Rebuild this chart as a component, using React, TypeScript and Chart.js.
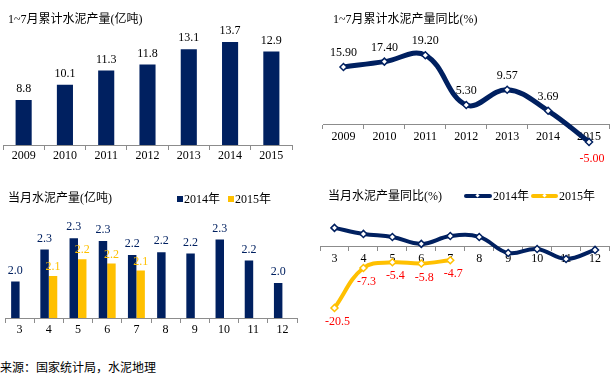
import React, { useEffect, useRef } from "react";
import { Chart, registerables } from "chart.js";
Chart.register(...registerables);

// ---------- data ----------
const yearLabels = ["2009", "2010", "2011", "2012", "2013", "2014", "2015"];
const cumOutput = [8.8, 10.1, 11.3, 11.8, 13.1, 13.7, 12.9];
const cumYoY = [15.9, 17.4, 19.2, 5.3, 9.57, 3.69, -5.0];

const monthLabels = ["3", "4", "5", "6", "7", "8", "9", "10", "11", "12"];
const monthly2014 = [2.03, 2.26, 2.34, 2.32, 2.22, 2.24, 2.23, 2.33, 2.18, 2.02];
const monthly2015 = [null, 2.07, 2.19, 2.16, 2.11, null, null, null, null, null];
const yoy2014 = [6.0, 4.0, 3.0, 0.7, 3.3, 3.0, -2.3, -1.0, -4.3, -1.3];
const yoy2015 = [-20.5, -7.3, -5.4, -5.8, -4.7, null, null, null, null, null];

const seriesNames = ["2014年", "2015年"];
const titles = [
  "1~7月累计水泥产量(亿吨)",
  "1~7月累计水泥产量同比(%)",
  "当月水泥产量(亿吨)",
  "当月水泥产量同比(%)",
];
const sourceText = "来源：国家统计局，水泥地理";

// ---------- styles ----------
const NAVY = "#002060";
const YELLOW = "#FFC000";
const RED = "#FF0000";
const AXIS = "#8c8c8c";
const SERIF = '"Liberation Serif", "Times New Roman", serif';
const MIXED = '"Liberation Serif", "Noto Sans CJK SC", serif';

type Spec = {
  color: (v: number) => string;
  dy: (v: number) => number;
  dx: (v: number) => number;
  digits: number;
} | null;

function labelPlugin(specs: Spec[]) {
  return {
    id: "valueLabels",
    afterDatasetsDraw(chart: any) {
      const ctx = chart.ctx;
      ctx.save();
      ctx.font = `12px ${SERIF}`;
      ctx.textAlign = "center";
      ctx.textBaseline = "middle";
      chart.data.datasets.forEach((ds: any, i: number) => {
        const spec = specs[i];
        if (!spec) return;
        const meta = chart.getDatasetMeta(i);
        meta.data.forEach((el: any, j: number) => {
          const v = ds.data[j];
          if (v == null) return;
          ctx.fillStyle = spec.color(v);
          ctx.fillText(v.toFixed(spec.digits), el.x + spec.dx(v), el.y + spec.dy(v));
        });
      });
      ctx.restore();
    },
  };
}

const xAxis = (yVal: number, pad: number) => ({
  position: { y: yVal },
  offset: true,
  grid: {
    offset: true,
    drawOnChartArea: false,
    drawTicks: true,
    tickLength: 4,
    color: AXIS,
    lineWidth: 1,
  },
  border: { display: true, color: AXIS, width: 1 },
  ticks: {
    color: "#000",
    padding: pad,
    font: { family: SERIF, size: 12 },
    maxRotation: 0,
    autoSkip: false,
  },
});

const baseOptions = (padding: any) => ({
  responsive: false,
  animation: false,
  devicePixelRatio: 1,
  layout: { padding },
  plugins: {
    legend: { display: false },
    title: { display: false },
    tooltip: { enabled: false },
  },
});

function makeCumBar(): any {
  return {
    type: "bar",
    data: {
      labels: yearLabels,
      datasets: [
        {
          data: cumOutput,
          backgroundColor: NAVY,
          barPercentage: 0.39,
          categoryPercentage: 1,
        },
      ],
    },
    options: {
      ...baseOptions({ left: 3, right: 8, top: 35, bottom: 25 }),
      scales: {
        x: xAxis(5, 0),
        y: { display: false, min: 5, max: 14.3 },
      },
    },
    plugins: [
      labelPlugin([{ color: () => "#000", dy: () => -11, dx: () => 0, digits: 1 }]),
    ],
  };
}

function makeCumLine(): any {
  return {
    type: "line",
    data: {
      labels: yearLabels,
      datasets: [
        {
          data: cumYoY,
          borderColor: NAVY,
          borderWidth: 5,
          tension: 0.4,
          pointStyle: "rectRot",
          pointRadius: 3.5,
          pointBackgroundColor: "#fff",
          pointBorderColor: NAVY,
          pointBorderWidth: 1.5,
        },
      ],
    },
    options: {
      ...baseOptions({ left: 18, right: 3, top: 34.4, bottom: 10.15 }),
      scales: {
        x: xAxis(0, 2),
        y: { display: false, min: -10, max: 25 },
      },
    },
    plugins: [
      labelPlugin([
        {
          color: (v) => (v < 0 ? RED : "#000"),
          dy: (v) => (v < 0 ? 17 : -14),
          dx: (v) => (v < 0 ? 3 : 0),
          digits: 2,
        },
      ]),
    ],
  };
}

function makeMonthBar(): any {
  return {
    type: "bar",
    data: {
      labels: monthLabels,
      datasets: [
        {
          label: seriesNames[0],
          data: monthly2014,
          backgroundColor: NAVY,
          barPercentage: 1,
          categoryPercentage: 0.58,
        },
        {
          label: seriesNames[1],
          data: monthly2015,
          backgroundColor: YELLOW,
          barPercentage: 1,
          categoryPercentage: 0.58,
        },
      ],
    },
    options: {
      ...baseOptions({ left: 5, right: 8, top: 35.8, bottom: 22 }),
      scales: {
        x: xAxis(1.77, 1),
        y: { display: false, min: 1.77, max: 2.5 },
      },
    },
    plugins: [
      labelPlugin([
        { color: () => NAVY, dy: () => -11, dx: () => 0, digits: 1 },
        { color: () => YELLOW, dy: () => -9, dx: () => 0, digits: 1 },
      ]),
    ],
  };
}

function makeMonthLine(): any {
  const line = (data: any[], color: string, label: string) => ({
    label,
    data,
    borderColor: color,
    borderWidth: 4,
    tension: 0.4,
    spanGaps: false,
    pointStyle: "rectRot",
    pointRadius: 3.5,
    pointBackgroundColor: "#fff",
    pointBorderColor: color,
    pointBorderWidth: 1.5,
  });
  return {
    type: "line",
    data: {
      labels: monthLabels,
      datasets: [line(yoy2014, NAVY, seriesNames[0]), line(yoy2015, YELLOW, seriesNames[1])],
    },
    options: {
      ...baseOptions({ left: 15, right: 5, top: 20.7, bottom: 18.5 }),
      scales: {
        x: xAxis(0, 2),
        y: { display: false, min: -25, max: 15 },
      },
    },
    plugins: [
      labelPlugin([
        null,
        { color: () => RED, dy: () => 14, dx: () => 3, digits: 1 },
      ]),
    ],
  };
}

function ChartPanel(props: {
  left: number;
  top: number;
  width: number;
  height: number;
  make: () => any;
}) {
  const ref = useRef<HTMLCanvasElement>(null);
  useEffect(() => {
    const chart = new Chart(ref.current as HTMLCanvasElement, props.make());
    return () => chart.destroy();
  }, []);
  return (
    <canvas
      ref={ref}
      width={props.width}
      height={props.height}
      style={{
        position: "absolute",
        left: props.left,
        top: props.top,
        width: props.width,
        height: props.height,
      }}
    />
  );
}

const textStyle = (left: number, top: number, color = "#000"): React.CSSProperties => ({
  position: "absolute",
  left,
  top,
  fontFamily: MIXED,
  fontSize: 12,
  lineHeight: "14px",
  color,
  whiteSpace: "nowrap",
});

export default function App() {
  return (
    <div
      style={{
        position: "absolute",
        left: 0,
        top: 0,
        width: 615,
        height: 381,
        background: "#fff",
        overflow: "hidden",
      }}
    >
      <ChartPanel left={0} top={0} width={300} height={170} make={makeCumBar} />
      <ChartPanel left={305} top={0} width={310} height={170} make={makeCumLine} />
      <ChartPanel left={0} top={180} width={305} height={160} make={makeMonthBar} />
      <ChartPanel left={305} top={180} width={310} height={160} make={makeMonthLine} />

      <div style={textStyle(8, 12)}>{titles[0]}</div>
      <div style={textStyle(333, 12)}>{titles[1]}</div>
      <div style={textStyle(8, 190.5)}>{titles[2]}</div>
      <div style={textStyle(328, 189)}>{titles[3]}</div>

      {/* legend bottom-left */}
      <div style={{ position: "absolute", left: 177, top: 196, width: 6, height: 6, background: NAVY }} />
      <div style={textStyle(184, 192)}>{seriesNames[0]}</div>
      <div style={{ position: "absolute", left: 228, top: 196, width: 6, height: 6, background: YELLOW }} />
      <div style={textStyle(235, 192)}>{seriesNames[1]}</div>

      {/* legend bottom-right */}
      <div style={{ position: "absolute", left: 464, top: 194, width: 28, height: 4, background: NAVY, borderRadius: 2 }} />
      <div style={{ position: "absolute", left: 476, top: 194, width: 3, height: 3, background: "#fff", transform: "rotate(45deg)" }} />
      <div style={textStyle(493, 189)}>{seriesNames[0]}</div>
      <div style={{ position: "absolute", left: 531, top: 194, width: 27, height: 4, background: YELLOW, borderRadius: 2 }} />
      <div style={{ position: "absolute", left: 543, top: 194, width: 3, height: 3, background: "#fff", transform: "rotate(45deg)" }} />
      <div style={textStyle(559, 189)}>{seriesNames[1]}</div>

      <div style={{ ...textStyle(0, 360), fontFamily: '"Noto Sans CJK SC", sans-serif' }}>{sourceText}</div>
    </div>
  );
}
